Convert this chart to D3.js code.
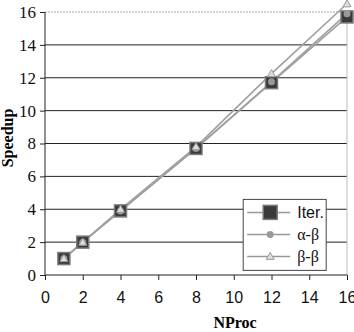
<!DOCTYPE html>
<html>
<head>
<meta charset="utf-8">
<script src="https://cdn.jsdelivr.net/npm/d3@7"></script>
<style>
  body { margin: 0; background: #fff; }
</style>
</head>
<body>
<div id="vis"></div>
<script>
const margin = { top: 12, right: 7, bottom: 57, left: 45 };
const W = 354, H = 332;
const SANS = '"Liberation Sans", Arial, sans-serif';
const SERIF = '"Liberation Serif", "Times New Roman", serif';

// data
const nproc = [1, 2, 4, 8, 12, 16];
const iter = [1, 2, 3.9, 7.7, 11.7, 15.7];
const alphaBeta = [1, 2, 3.9, 7.7, 11.75, 15.9];
const betaBeta = [1, 2, 4, 7.8, 12.25, 16.5];
const xTicks = [0, 2, 4, 6, 8, 10, 12, 14, 16];
const yTicks = [0, 2, 4, 6, 8, 10, 12, 14, 16];

const width = W - margin.left - margin.right;
const height = H - margin.top - margin.bottom;

const $svg = d3.select('#vis').append('svg')
  .attr('width', W).attr('height', H);
const $plot = $svg.append('g')
  .attr('transform', `translate(${margin.left}, ${margin.top})`);

const x = d3.scaleLinear().domain([0, 16]).range([0, width]);
const y = d3.scaleLinear().domain([0, 16]).range([height, 0]);

// gridlines
$plot.selectAll('.grid')
  .data(yTicks.filter(d => d > 0))
  .enter().append('line')
  .attr('x1', 0).attr('x2', width)
  .attr('y1', d => y(d)).attr('y2', d => y(d))
  .attr('stroke', d => d === 16 ? '#aaa' : '#222')
  .attr('stroke-width', 1)
  .attr('stroke-dasharray', d => d === 16 ? '2,1' : null);

// right border
$plot.append('line')
  .attr('x1', width).attr('x2', width)
  .attr('y1', 0).attr('y2', height)
  .attr('stroke', '#bbb');

// axes
const yAxis = d3.axisLeft(y).tickValues(yTicks).tickSize(5).tickPadding(4);
const xAxis = d3.axisBottom(x).tickValues(xTicks).tickSize(5).tickPadding(12);

$plot.append('g').call(yAxis)
  .call(g => g.select('.domain').attr('stroke', '#222').attr('d', `M0,${height}V0`))
  .call(g => g.selectAll('line').attr('stroke', '#222'))
  .call(g => g.selectAll('text').style('font-size', '17px').attr('fill', '#111')
    .style('font-family', SERIF));

$plot.append('g')
  .attr('transform', `translate(0, ${height})`)
  .call(xAxis)
  .call(g => g.select('.domain').attr('stroke', '#222').attr('d', `M0,0H${width}`))
  .call(g => g.selectAll('line').attr('stroke', '#222'))
  .call(g => g.selectAll('text').style('font-size', '16px').attr('fill', '#111')
    .style('font-family', SANS));

// series (drawn in this order so triangles sit on top of the squares)
const series = [
  { name: 'Iter.', values: iter, marker: 'square' },
  { name: 'α-β', values: alphaBeta, marker: 'circle' },
  { name: 'β-β', values: betaBeta, marker: 'triangle' }
];

const line = d3.line()
  .x((d, i) => x(nproc[i]))
  .y(d => y(d));

$svg.append('defs').append('clipPath').attr('id', 'clip')
  .append('rect').attr('x', 0).attr('y', -margin.top + 2)
  .attr('width', width + 4).attr('height', height + margin.top);

const $lines = $plot.append('g').attr('clip-path', 'url(#clip)');
series.forEach(s => {
  $lines.append('path')
    .datum(s.values)
    .attr('d', line)
    .attr('fill', 'none')
    .attr('stroke', '#a0a0a0')
    .attr('stroke-width', 1.6);
});

function drawMarker(g, type, cx, cy, big) {
  const h = big ? 7 : 6;
  if (type === 'square') {
    g.append('rect')
      .attr('x', cx - h).attr('y', cy - h)
      .attr('width', 2 * h).attr('height', 2 * h)
      .attr('fill', '#3a3a3a').attr('stroke', '#7a7a7a').attr('stroke-width', 1.5);
  } else if (type === 'circle') {
    g.append('circle')
      .attr('cx', cx).attr('cy', cy).attr('r', 3.5)
      .attr('fill', '#999');
  } else {
    g.append('path')
      .attr('d', `M${cx},${cy - 4}L${cx + 4},${cy + 3}L${cx - 4},${cy + 3}Z`)
      .attr('fill', '#ddd').attr('stroke', '#999').attr('stroke-width', 1);
  }
}

const $marks = $plot.append('g');
series.forEach(s => {
  s.values.forEach((v, i) => drawMarker($marks, s.marker, x(nproc[i]), y(v)));
});

// legend
const $legend = $plot.append('g')
  .attr('transform', `translate(${x(10.5)}, ${y(4.6)})`);
$legend.append('rect')
  .attr('width', 83).attr('height', 71)
  .attr('fill', '#fff').attr('stroke', '#444');
series.forEach((s, i) => {
  const ly = 13 + i * 22;
  $legend.append('line')
    .attr('x1', 4).attr('x2', 47).attr('y1', ly).attr('y2', ly)
    .attr('stroke', '#999').attr('stroke-width', 1.5);
  drawMarker($legend, s.marker, 27, ly, true);
  $legend.append('text')
    .attr('x', 54).attr('y', ly).attr('dy', '0.35em')
    .style('font-size', '16px').attr('fill', '#111')
    .style('font-family', s.name === 'Iter.' ? SANS : SERIF)
    .text(s.name);
});

// axis titles
$svg.append('text')
  .attr('transform', `translate(13, 138) rotate(-90)`)
  .attr('text-anchor', 'middle')
  .style('font-family', SERIF).style('font-weight', 'bold').style('font-size', '16px')
  .text('Speedup');

$svg.append('text')
  .attr('x', 235)
  .attr('y', 328)
  .attr('text-anchor', 'middle')
  .style('font-family', SERIF).style('font-weight', 'bold').style('font-size', '16px')
  .text('NProc');
</script>
</body>
</html>
